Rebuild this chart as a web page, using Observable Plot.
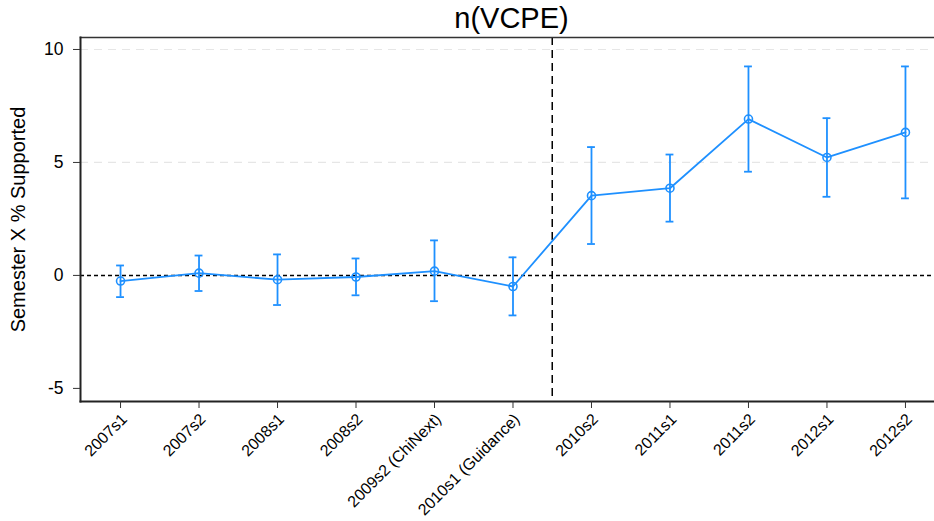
<!DOCTYPE html>
<html>
<head>
<meta charset="utf-8">
<script src="https://cdn.jsdelivr.net/npm/d3@7"></script>
<script src="https://cdn.jsdelivr.net/npm/@observablehq/plot@0.6"></script>
<style>
  html, body { margin: 0; padding: 0; background: #fff; }
  #chart svg { display: block; }
</style>
</head>
<body>
<div id="chart"></div>
<script>
const periods = ["2007s1", "2007s2", "2008s1", "2008s2", "2009s2 (ChiNext)", "2010s1 (Guidance)",
                 "2010s2", "2011s1", "2011s2", "2012s1", "2012s2"];
const estimates = [-0.25, 0.10, -0.19, -0.07, 0.19, -0.49, 3.53, 3.86, 6.92, 5.22, 6.33];
const upper     = [0.44, 0.88, 0.93, 0.75, 1.55, 0.80, 5.68, 5.35, 9.25, 6.96, 9.25];
const lower     = [-0.96, -0.69, -1.31, -0.88, -1.14, -1.77, 1.39, 2.38, 4.59, 3.48, 3.41];
const yTicks = [-5, 0, 5, 10];
const gridValues = [5, 10];
const eventLine = [5.5];
const title = "n(VCPE)";
const yLabel = "Semester X % Supported";

const data = periods.map((p, i) => ({i, p, est: estimates[i], hi: upper[i], lo: lower[i]}));
const idx = d3.range(periods.length);
const blue = "#1e90ff";
const font = "Liberation Sans, Arial, sans-serif";
const capHalf = 0.05;

const chart = Plot.plot({
  width: 934,
  height: 521,
  marginLeft: 80,
  marginRight: 0,
  marginTop: 37,
  marginBottom: 120,
  style: {fontFamily: font, background: "#fff", color: "#000"},
  x: {type: "linear", domain: [-0.51, 10.37], axis: null},
  y: {type: "linear", domain: [-5.58, 10.53], axis: null},
  marks: [
    Plot.ruleY(gridValues, {stroke: "#e6e6e6", strokeWidth: 1.2, strokeDasharray: "8,6"}),
    Plot.ruleY([0], {stroke: "#000", strokeWidth: 1.5, strokeDasharray: "4,3"}),
    Plot.ruleX(eventLine, {stroke: "#000", strokeWidth: 1.5, strokeDasharray: "8,5"}),
    Plot.frame({anchor: "top", stroke: "#333", strokeWidth: 1.5}),
    Plot.frame({anchor: "left", stroke: "#222", strokeWidth: 2}),
    Plot.frame({anchor: "bottom", stroke: "#222", strokeWidth: 2}),
    // tick marks only
    Plot.axisY(yTicks, {anchor: "left", tickSize: 7, tickFormat: () => "", label: null, stroke: "#333"}),
    Plot.axisX(idx, {anchor: "bottom", tickSize: 7, tickFormat: () => "", label: null, stroke: "#333"}),
    // tick labels
    Plot.text(yTicks, {y: d => d, text: d => String(d), frameAnchor: "left", dx: -17,
      textAnchor: "end", fontSize: 17.5, fill: "#000"}),
    Plot.text(idx, {x: d => d, text: d => periods[d], frameAnchor: "bottom", dx: 4, dy: 15,
      rotate: -45, textAnchor: "end", lineAnchor: "middle", fontSize: 16, fill: "#000"}),
    // data
    Plot.ruleX(data, {x: "i", y1: "lo", y2: "hi", stroke: blue, strokeWidth: 1.8}),
    Plot.ruleY(data, {y: "hi", x1: d => d.i - capHalf, x2: d => d.i + capHalf, stroke: blue, strokeWidth: 1.8}),
    Plot.ruleY(data, {y: "lo", x1: d => d.i - capHalf, x2: d => d.i + capHalf, stroke: blue, strokeWidth: 1.8}),
    Plot.line(data, {x: "i", y: "est", stroke: blue, strokeWidth: 1.8}),
    Plot.dot(data, {x: "i", y: "est", r: 4, stroke: blue, strokeWidth: 1.6, fill: "none"}),
    Plot.text([title], {frameAnchor: "top", dy: -30, fontSize: 29, fill: "#000", dx: 4}),
    Plot.text([yLabel], {frameAnchor: "left", dx: -62, rotate: -90, textAnchor: "middle", fontSize: 20, fill: "#000"})
  ]
});
document.getElementById("chart").appendChild(chart);
</script>
</body>
</html>
